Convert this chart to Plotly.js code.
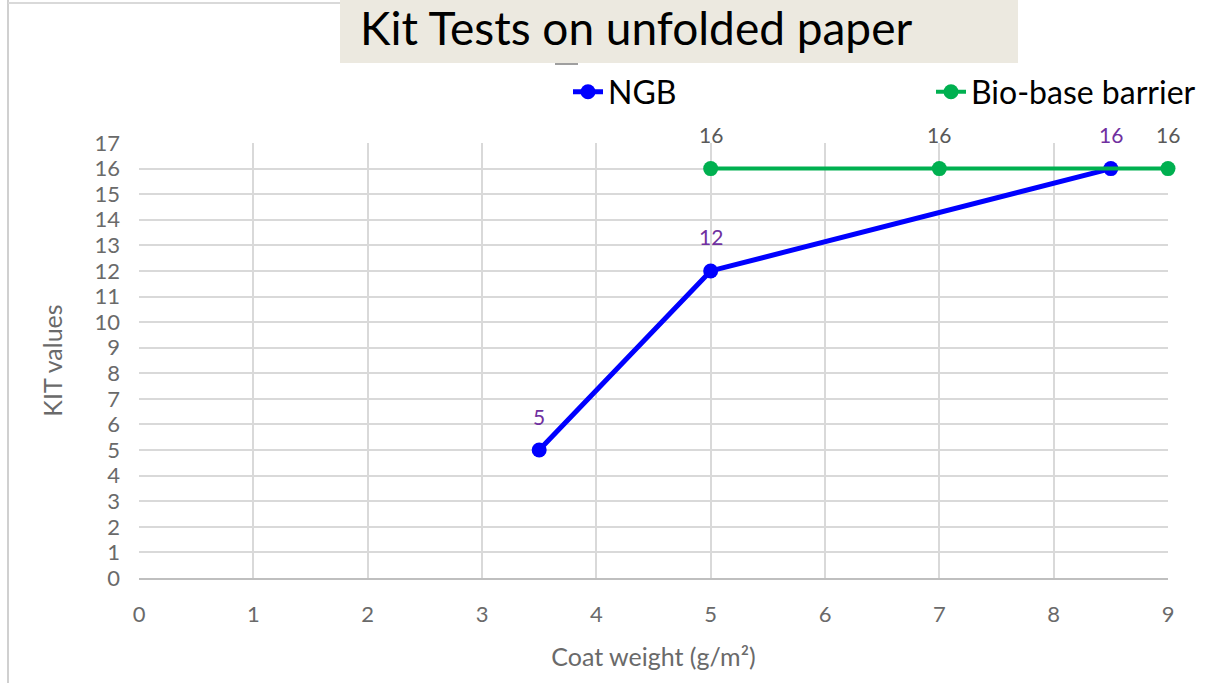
<!DOCTYPE html>
<html>
<head>
<meta charset="utf-8">
<script src="https://cdn.plot.ly/plotly-3.0.1.min.js"></script>
<style>html,body{margin:0;padding:0;background:#fff;}#chart{width:1230px;height:683px;}</style>
</head>
<body>
<div id="chart"></div>
<script>
var chartTitle = "Kit Tests on unfolded paper";
var xTitle = "Coat weight (g/m²)";
var yTitle = "KIT values";
var ngbName = "NGB";
var ngbX = [3.5, 5, 8.5];
var ngbY = [5, 12, 16];
var bioName = "Bio-base barrier";
var bioX = [5, 7, 9];
var bioY = [16, 16, 16];

var FONT = "Lato, 'Open Sans', sans-serif";
var traces = [
  {x: ngbX, y: ngbY, name: ngbName, mode: "lines+markers", type: "scatter",
   line: {color: "#0000FF", width: 5}, marker: {color: "#0000FF", size: 15}, legend: "legend", cliponaxis: false},
  {x: bioX, y: bioY, name: bioName, mode: "lines+markers", type: "scatter",
   line: {color: "#00B050", width: 4}, marker: {color: "#00B050", size: 15}, legend: "legend2", cliponaxis: false}
];

var annotations = [];
ngbX.forEach(function(v, i){
  annotations.push({x: v, y: ngbY[i], text: String(ngbY[i]), showarrow: false, yshift: 34,
    font: {family: FONT, size: 21, color: "#7030A0"}});
});
bioX.forEach(function(v, i){
  annotations.push({x: v, y: bioY[i], text: String(bioY[i]), showarrow: false, yshift: 34,
    font: {family: FONT, size: 21, color: "#595959"}});
});
annotations.push({xref: "paper", yref: "paper", x: (358-139)/1029, y: (578-27)/435, xanchor: "left", yanchor: "middle",
  text: chartTitle, showarrow: false, font: {family: FONT, size: 46, color: "#000"}});

var layout = {
  width: 1230, height: 683,
  margin: {l: 139, r: 62, t: 143, b: 105},
  paper_bgcolor: "#ffffff", plot_bgcolor: "#ffffff",
  font: {family: FONT, color: "#595959"},
  showlegend: true,
  legend: {x: (568-139)/1029, y: (578-92)/435, xanchor: "left", yanchor: "middle", orientation: "h",
    font: {family: FONT, size: 32, color: "#000"}, bgcolor: "rgba(0,0,0,0)"},
  legend2: {x: (931-139)/1029, y: (578-92)/435, xanchor: "left", yanchor: "middle", orientation: "h",
    font: {family: FONT, size: 32, color: "#000"}, bgcolor: "rgba(0,0,0,0)"},
  xaxis: {range: [0, 9], dtick: 1, tick0: 0, showgrid: true, gridcolor: "#d9d9d9", gridwidth: 2,
    showline: true, linecolor: "#bfbfbf", linewidth: 2, zeroline: false, ticks: "", ticklabelstandoff: 16,
    tickfont: {family: FONT, size: 22, color: "#6a6a6a"}, fixedrange: true,
    title: {text: xTitle, font: {family: FONT, size: 25, color: "#6a6a6a"}, standoff: 22}},
  yaxis: {range: [0, 17], dtick: 1, tick0: 0, showgrid: true, gridcolor: "#d9d9d9", gridwidth: 2,
    showline: false, zeroline: false, ticks: "", ticklabelstandoff: 18,
    tickfont: {family: FONT, size: 22, color: "#6a6a6a"}, fixedrange: true,
    title: {text: yTitle, font: {family: FONT, size: 25, color: "#6a6a6a"}, standoff: 24}},
  shapes: [
    {type: "rect", xref: "paper", yref: "paper", x0: (340-139)/1029, x1: (1018-139)/1029, y0: (578-63)/435, y1: (578+2)/435 + 1,
     fillcolor: "#ECE9E0", line: {width: 0}, layer: "below"},
    {type: "line", xref: "paper", yref: "paper", x0: (8-139)/1029, x1: (8-139)/1029, y0: (578-683)/435, y1: 578/435,
     line: {color: "#d0d0d0", width: 2}},
    {type: "line", xref: "paper", yref: "paper", x0: (8-139)/1029, x1: (340-139)/1029, y0: (578-3)/435, y1: (578-3)/435,
     line: {color: "#d9d9d9", width: 2}},
    {type: "line", xref: "paper", yref: "paper", x0: (555-139)/1029, x1: (578-139)/1029, y0: (578-64)/435, y1: (578-64)/435,
     line: {color: "#7f7f7f", width: 1.5}}
  ],
  annotations: annotations
};
Plotly.newPlot("chart", traces, layout, {displayModeBar: false, staticPlot: true});
</script>
</body>
</html>
